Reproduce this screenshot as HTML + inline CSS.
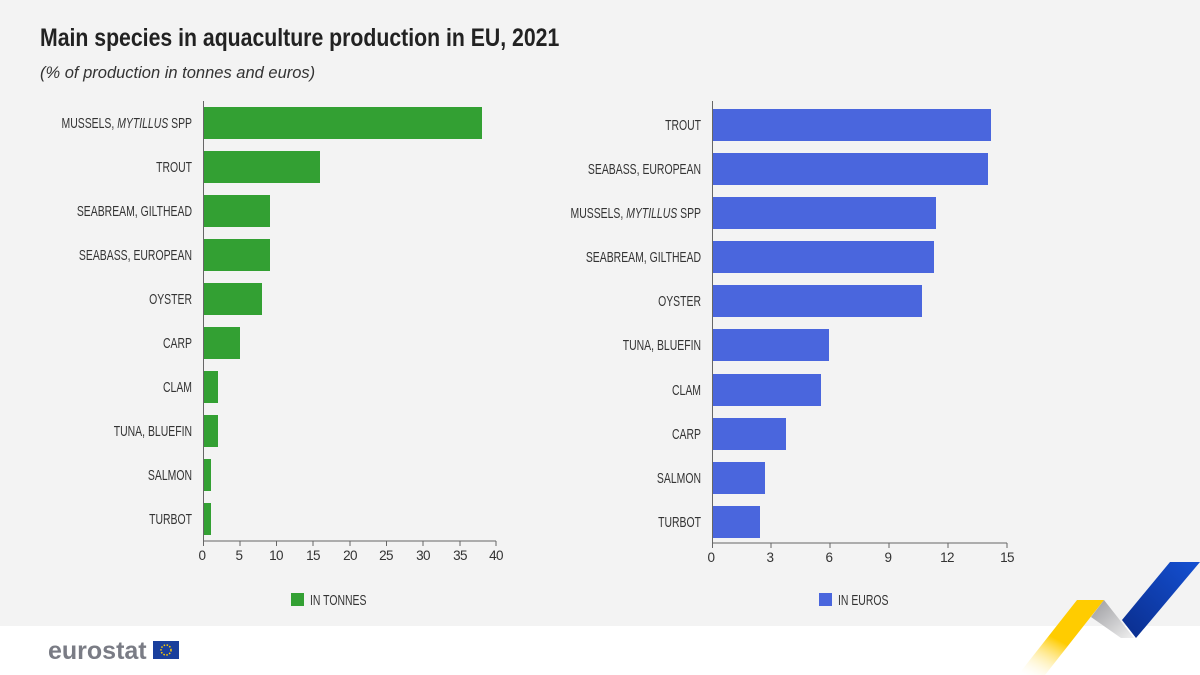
<!DOCTYPE html>
<html><head><meta charset="utf-8"><style>
body{margin:0;width:1200px;height:675px;overflow:hidden;background:#fff}
svg{display:block}
text{font-family:"Liberation Sans",sans-serif}
</style></head><body>
<svg width="1200" height="675" viewBox="0 0 1200 675">
<defs>
<linearGradient id="gy" x1="0" y1="1" x2="0.6" y2="0"><stop offset="0" stop-color="#fff" stop-opacity="0"/><stop offset="0.55" stop-color="#ffcc00"/><stop offset="1" stop-color="#ffcc00"/></linearGradient>
<linearGradient id="gg" x1="0" y1="0" x2="1" y2="1"><stop offset="0" stop-color="#9a9a9e"/><stop offset="1" stop-color="#f0f0f0"/></linearGradient>
<linearGradient id="gb" x1="0" y1="1" x2="1" y2="0"><stop offset="0" stop-color="#0a2d8c"/><stop offset="1" stop-color="#1450d2"/></linearGradient>
</defs>
<rect width="1200" height="626" fill="#f3f3f3"/>
<g transform="translate(40 46) scale(0.85 1)"><text x="0" y="0" font-size="25" font-weight="bold" fill="#222">Main species in aquaculture production in EU, 2021</text></g>
<text x="40" y="78" font-size="16.5" font-style="italic" fill="#333">(% of production in tonnes and euros)</text>

<g fill="#33a033">
<rect x="203" y="107" width="279" height="32"/>
<rect x="203" y="151" width="117" height="32"/>
<rect x="203" y="195" width="67" height="32"/>
<rect x="203" y="239" width="67" height="32"/>
<rect x="203" y="283" width="59" height="32"/>
<rect x="203" y="327" width="37" height="32"/>
<rect x="203" y="371" width="15" height="32"/>
<rect x="203" y="415" width="15" height="32"/>
<rect x="203" y="459" width="8" height="32"/>
<rect x="203" y="503" width="8" height="32"/>
</g>
<g stroke="#666" stroke-width="1" fill="none">
<path d="M203.5 101V541H496"/>
<path d="M203.5 541v5M240 541v5M276.5 541v5M313 541v5M350 541v5M386.5 541v5M423 541v5M460 541v5M496 541v5"/>
</g>
<g transform="translate(192 0) scale(0.72 1)" font-size="14.5" fill="#333" text-anchor="end">
<text x="0" y="128">MUSSELS, <tspan font-style="italic">MYTILLUS</tspan> SPP</text>
<text x="0" y="172">TROUT</text>
<text x="0" y="216">SEABREAM, GILTHEAD</text>
<text x="0" y="260">SEABASS, EUROPEAN</text>
<text x="0" y="304">OYSTER</text>
<text x="0" y="348">CARP</text>
<text x="0" y="392">CLAM</text>
<text x="0" y="436">TUNA, BLUEFIN</text>
<text x="0" y="480">SALMON</text>
<text x="0" y="524">TURBOT</text>
</g>
<g font-size="13.5" letter-spacing="-0.6" fill="#333" text-anchor="middle">
<text x="202" y="560">0</text><text x="239" y="560">5</text><text x="276" y="560">10</text><text x="313" y="560">15</text><text x="350" y="560">20</text><text x="386" y="560">25</text><text x="423" y="560">30</text><text x="460" y="560">35</text><text x="496" y="560">40</text>
</g>
<rect x="291" y="593" width="13" height="13" fill="#33a033"/>
<g transform="translate(310 605) scale(0.72 1)"><text x="0" y="0" font-size="14.5" fill="#333">IN TONNES</text></g>

<g fill="#4a66dd">
<rect x="712" y="109" width="279" height="32"/>
<rect x="712" y="153" width="276" height="32"/>
<rect x="712" y="197" width="224" height="32"/>
<rect x="712" y="241" width="222" height="32"/>
<rect x="712" y="285" width="210" height="32"/>
<rect x="712" y="329" width="117" height="32"/>
<rect x="712" y="374" width="109" height="32"/>
<rect x="712" y="418" width="74" height="32"/>
<rect x="712" y="462" width="53" height="32"/>
<rect x="712" y="506" width="48" height="32"/>
</g>
<g stroke="#666" stroke-width="1" fill="none">
<path d="M712.5 101V543H1007"/>
<path d="M712.5 543v5M771 543v5M830 543v5M889 543v5M948 543v5M1007 543v5"/>
</g>
<g transform="translate(701 0) scale(0.72 1)" font-size="14.5" fill="#333" text-anchor="end">
<text x="0" y="130">TROUT</text>
<text x="0" y="174">SEABASS, EUROPEAN</text>
<text x="0" y="218">MUSSELS, <tspan font-style="italic">MYTILLUS</tspan> SPP</text>
<text x="0" y="262">SEABREAM, GILTHEAD</text>
<text x="0" y="306">OYSTER</text>
<text x="0" y="350">TUNA, BLUEFIN</text>
<text x="0" y="395">CLAM</text>
<text x="0" y="439">CARP</text>
<text x="0" y="483">SALMON</text>
<text x="0" y="527">TURBOT</text>
</g>
<g font-size="13.5" letter-spacing="-0.6" fill="#333" text-anchor="middle">
<text x="711" y="562">0</text><text x="770" y="562">3</text><text x="829" y="562">6</text><text x="888" y="562">9</text><text x="947" y="562">12</text><text x="1007" y="562">15</text>
</g>
<rect x="819" y="593" width="13" height="13" fill="#4a66dd"/>
<g transform="translate(838 605) scale(0.72 1)"><text x="0" y="0" font-size="14.5" fill="#333">IN EUROS</text></g>

<text x="48" y="659" font-size="25" font-weight="bold" fill="#7a7c85">eurostat</text>
<rect x="153" y="641" width="26" height="18" fill="#1a3f9c"/>
<circle cx="166" cy="650" r="5" fill="none" stroke="#ffcc00" stroke-width="1.5" stroke-dasharray="1.5 1.5"/>

<polygon points="1018,675 1077,600 1104,600 1045,675" fill="url(#gy)"/>
<polygon points="1091,617 1104,600 1134,638 1121,638" fill="url(#gg)"/>
<polygon points="1122,620 1170,562 1200,562 1136,638" fill="url(#gb)"/>
</svg>
</body></html>
